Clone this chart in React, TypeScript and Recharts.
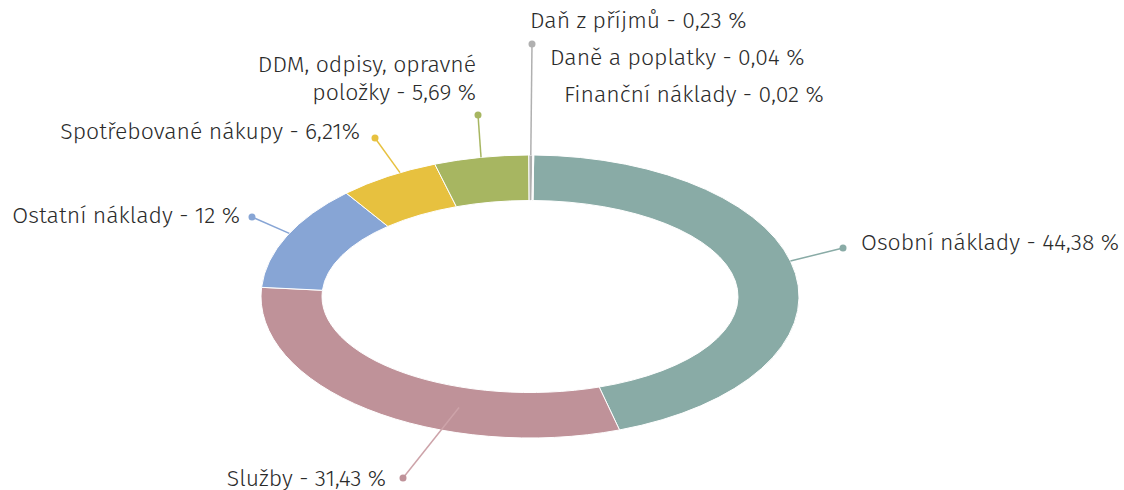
import { PieChart, Pie, Cell } from 'recharts'

const names = [
  'Osobní náklady',
  'Služby',
  'Ostatní náklady',
  'Spotřebované nákupy',
  'DDM, odpisy, opravné položky',
  'Daň z příjmů',
  'Daně a poplatky',
  'Finanční náklady',
]
const values = [44.38, 31.43, 12, 6.21, 5.69, 0.23, 0.04, 0.02]
const labelLines = [
  ['Osobní náklady - 44,38 %'],
  ['Služby - 31,43 %'],
  ['Ostatní náklady - 12 %'],
  ['Spotřebované nákupy - 6,21%'],
  ['DDM, odpisy, opravné', 'položky - 5,69 %'],
  ['Daň z příjmů - 0,23 %'],
  ['Daně a poplatky - 0,04 %'],
  ['Finanční náklady - 0,02 %'],
]
const colors = ['#89aba6', '#bf9299', '#87a5d5', '#e7c13f', '#a7b661', '#b0b0b0', '#c4c4c4', '#9a9a9a']
const lineColors = ['#89aba6', '#cda3a9', '#87a5d5', '#e7c13f', '#a7b661', '#b0b0b0', '#c4c4c4', '#9a9a9a']

const data = names.map((name, i) => ({ name, value: values[i] }))

const CX = 530
const CY = 296.5
const RX_OUT = 269
const RY_OUT = 141.5
const RX_IN = 208
const RY_IN = 96
const START = 89.2
const RAD = Math.PI / 180

// label placement: anchor angle tweak, anchor position across the ring (1 = outer edge),
// dot offset from centre (null = no leader), text side and text offset from the dot
const labelLayout = [
  { tweak: 5.2, frac: 1, dot: [313, -48.5], side: 'start', tx: 18, ty: 2 },
  { tweak: 19.6, frac: 0.45, dot: [-127, 181.5], side: 'end', tx: -17, ty: 8 },
  { tweak: -1.2, frac: 1, dot: [-278, -79.5], side: 'end', tx: -12, ty: 6 },
  { tweak: -3, frac: 1, dot: [-155, -158.5], side: 'end', tx: -15, ty: 1 },
  { tweak: 0, frac: 1, dot: [-52, -181.5], side: 'end', tx: -2, ty: -43 },
  { tweak: 0, frac: 1, dot: [2, -252.5], side: 'start', tx: -2, ty: -16 },
  { tweak: 0, frac: 1, dot: null, text: [20, -231.5], side: 'start' },
  { tweak: 0, frac: 1, dot: null, text: [34, -194.5], side: 'start' },
]

const pt = (a: number, rx: number, ry: number) => [CX + rx * Math.cos(a * RAD), CY - ry * Math.sin(a * RAD)]

function EllipseSector(props: any) {
  const { startAngle, endAngle, fill } = props
  const sweep = Math.abs(endAngle - startAngle)
  const large = sweep > 180 ? 1 : 0
  const [x1, y1] = pt(startAngle, RX_OUT, RY_OUT)
  const [x2, y2] = pt(endAngle, RX_OUT, RY_OUT)
  const [x3, y3] = pt(endAngle, RX_IN, RY_IN)
  const [x4, y4] = pt(startAngle, RX_IN, RY_IN)
  const d = `M${x1},${y1} A${RX_OUT},${RY_OUT} 0 ${large} 1 ${x2},${y2} L${x3},${y3} A${RX_IN},${RY_IN} 0 ${large} 0 ${x4},${y4} Z`
  return <path d={d} fill={fill} stroke="#fff" strokeWidth={1} />
}

const textStyle = { fontFamily: "'Fira Sans', 'Open Sans', sans-serif", fontSize: 23, fontWeight: 300, fill: '#2b2b2b' }

function renderLabel(props: any) {
  const { index, midAngle } = props
  const lay = labelLayout[index]
  const lines = labelLines[index]
  if (!lay.dot) {
    const [tx, ty] = lay.text as number[]
    return (
      <text x={CX + tx} y={CY + ty} textAnchor={lay.side as any} style={textStyle}>
        {lines[0]}
      </text>
    )
  }
  const a = midAngle + lay.tweak
  const rx = RX_IN + (RX_OUT - RX_IN) * lay.frac
  const ry = RY_IN + (RY_OUT - RY_IN) * lay.frac
  const [ax, ay] = pt(a, rx, ry)
  const dx = CX + lay.dot[0]
  const dy = CY + lay.dot[1]
  const x = dx + (lay.tx ?? 0)
  return (
    <g>
      <line x1={ax} y1={ay} x2={dx} y2={dy} stroke={lineColors[index]} strokeWidth={1.5} />
      <circle cx={dx} cy={dy} r={3.5} fill={colors[index]} />
      <text x={x} y={dy + (lay.ty ?? 0)} textAnchor={lay.side as any} style={textStyle}>
        {lines.map((l, i) => (
          <tspan key={i} x={x} dy={i === 0 ? 0 : 28}>
            {l}
          </tspan>
        ))}
      </text>
    </g>
  )
}

export default function App() {
  return (
    <div style={{ position: 'absolute', left: 0, top: 0, width: 1124, height: 490, background: '#fff' }}>
      <PieChart width={1124} height={490} margin={{ top: 0, right: 0, bottom: 0, left: 0 }} style={{ overflow: 'visible' }}>
        <Pie
          data={data}
          dataKey="value"
          nameKey="name"
          cx={CX}
          cy={CY}
          innerRadius={RY_IN}
          outerRadius={RY_OUT}
          startAngle={START}
          endAngle={START - 360}
          paddingAngle={0}
          shape={EllipseSector}
          label={renderLabel}
          labelLine={false}
          isAnimationActive={false}
        >
          {data.map((d, i) => (
            <Cell key={d.name} fill={colors[i]} />
          ))}
        </Pie>
      </PieChart>
    </div>
  )
}
